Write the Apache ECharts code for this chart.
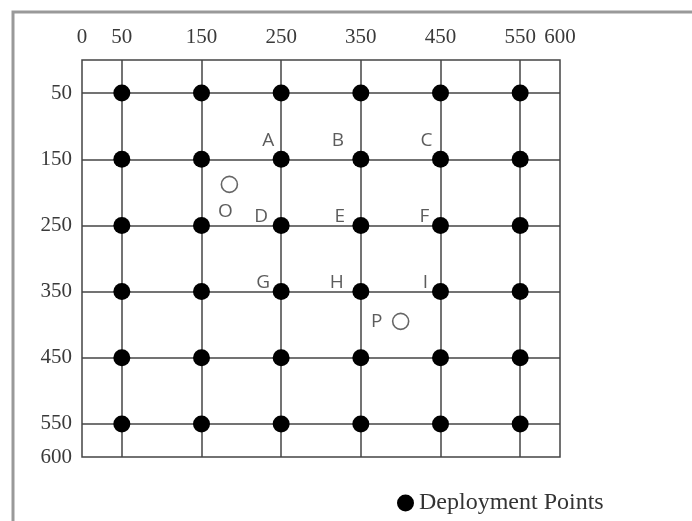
<!DOCTYPE html>
<html>
<head>
<meta charset="utf-8">
<script src="https://cdn.jsdelivr.net/npm/echarts@6/dist/echarts.min.js"></script>
<style>html,body{margin:0;padding:0;background:#fff;}#c{width:692px;height:521px;}</style>
</head>
<body>
<div id="c"></div>
<script>
// ---- data ----
const xTickLabels = [0, 50, 150, 250, 350, 450, 550, 600];
const yTickLabels = [50, 150, 250, 350, 450, 550, 600];
const gridValues = [50, 150, 250, 350, 450, 550];
const deploymentPoints = [
  [50,50],[150,50],[250,50],[350,50],[450,50],[550,50],
  [50,150],[150,150],[250,150],[350,150],[450,150],[550,150],
  [50,250],[150,250],[250,250],[350,250],[450,250],[550,250],
  [50,350],[150,350],[250,350],[350,350],[450,350],[550,350],
  [50,450],[150,450],[250,450],[350,450],[450,450],[550,450],
  [50,550],[150,550],[250,550],[350,550],[450,550],[550,550]
];
const targetPoints = [["O", 185, 188], ["P", 400, 395]];
const pointLabels = [
  ["A", 250, 150], ["B", 350, 150], ["C", 450, 150],
  ["D", 250, 250], ["E", 350, 250], ["F", 450, 250],
  ["G", 250, 350], ["H", 350, 350], ["I", 450, 350],
  ["O", 185, 188], ["P", 400, 395]
];
// label offsets (style)
const labelOffsets = {
  A: [-13, -19], B: [-23, -19], C: [-14, -19],
  D: [-20, -9], E: [-21, -9], F: [-16, -9],
  G: [-18, -9], H: [-24, -9], I: [-15, -9],
  O: [-4, 27], P: [-24, 0]
};

const chart = echarts.init(document.getElementById('c'), null, {renderer: 'canvas'});
const serif = '"Liberation Serif","Times New Roman",serif';
const labelStyle = {fontFamily: serif, fontSize: 21, color: '#3a3a3a'};
const axisCommon = {
  type: 'value', min: 0, max: 600,
  axisLine: {show: false},
  axisTick: {show: false, customValues: gridValues},
  splitLine: {show: true, lineStyle: {color: '#444', width: 1.5}}
};
chart.setOption({
  animation: false,
  backgroundColor: '#fff',
  grid: {left: 82, right: 132, top: 60, bottom: 64, show: true, borderColor: '#444', borderWidth: 1.5},
  xAxis: Object.assign({}, axisCommon, {position: 'top',
    axisLabel: Object.assign({customValues: xTickLabels, margin: 12}, labelStyle)}),
  yAxis: Object.assign({}, axisCommon, {inverse: true,
    axisLabel: Object.assign({customValues: yTickLabels, margin: 10}, labelStyle)}),
  legend: {
    data: ['Deployment Points'], left: 392, top: 486, icon: 'circle',
    itemWidth: 17, itemHeight: 17, itemGap: 6,
    itemStyle: {opacity: 1},
    textStyle: {fontFamily: serif, fontSize: 24, color: '#333'}
  },
  graphic: [{
    type: 'polyline', silent: true,
    shape: {points: [[13, 521], [13, 12], [692, 12]]},
    style: {stroke: '#999', lineWidth: 3, fill: null}
  }],
  series: [
    {
      name: 'Deployment Points', type: 'scatter', symbol: 'circle', symbolSize: 17,
      itemStyle: {color: '#000', opacity: 1}, data: deploymentPoints, z: 3
    },
    {
      name: 'Targets', type: 'scatter', symbol: 'circle', symbolSize: 16,
      itemStyle: {color: '#fff', borderColor: '#666', borderWidth: 1.6, opacity: 1},
      data: targetPoints.map(t => [t[1], t[2]]), z: 3
    },
    {
      name: 'Labels', type: 'scatter', symbolSize: 0, silent: true, z: 4,
      data: pointLabels.map(p => ({
        value: [p[1], p[2]],
        label: {show: true, formatter: p[0], position: 'inside', offset: labelOffsets[p[0]],
          fontFamily: '"Open Sans","Noto Sans",sans-serif', fontSize: 19, color: '#333'}
      }))
    }
  ]
});
</script>
</body>
</html>
